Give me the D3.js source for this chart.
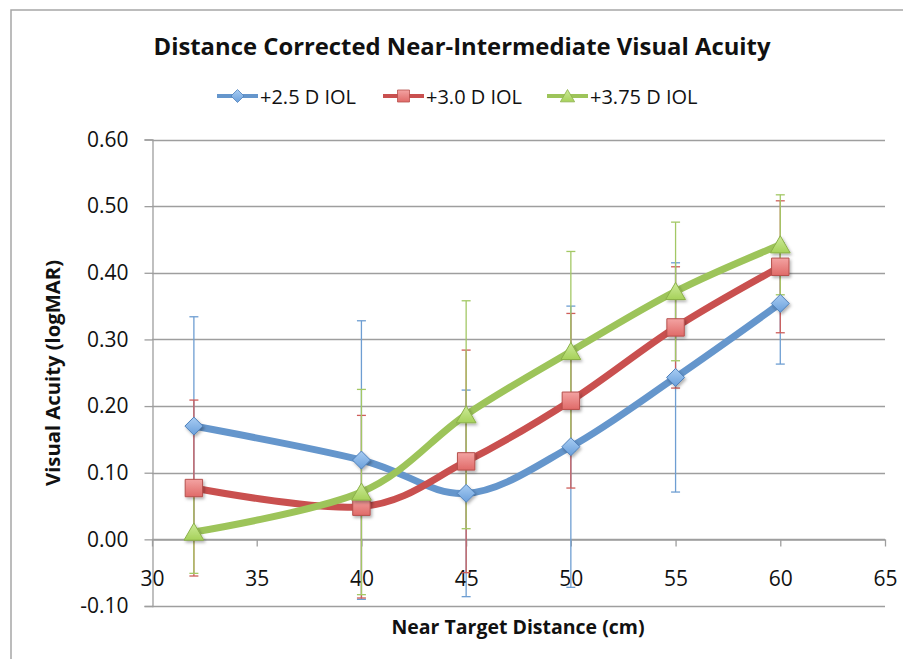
<!DOCTYPE html>
<html><head><meta charset="utf-8">
<script src="https://cdn.jsdelivr.net/npm/d3@7"></script>
<style>html,body{margin:0;padding:0;background:#fff;}svg{display:block;font-family:"Open Sans",sans-serif;}</style>
</head><body>
<svg id="c" width="903" height="659"></svg>
<script>
const distances = [32, 40, 45, 50, 55, 60];
const seriesNames = ["+2.5 D IOL", "+3.0 D IOL", "+3.75 D IOL"];
const iol25 = [0.170, 0.119, 0.069, 0.139, 0.243, 0.354];
const iol25Err = [0.164, 0.209, 0.155, 0.211, 0.172, 0.091];
const iol30 = [0.077, 0.049, 0.117, 0.208, 0.318, 0.409];
const iol30Err = [0.132, 0.137, 0.167, 0.131, 0.091, 0.099];
const iol375 = [0.011, 0.071, 0.187, 0.282, 0.372, 0.442];
const iol375Err = [0.062, 0.154, 0.171, 0.150, 0.104, 0.075];
const xTicks = [30, 35, 40, 45, 50, 55, 60, 65];
const yTicks = [-0.10, 0.00, 0.10, 0.20, 0.30, 0.40, 0.50, 0.60];

const series = [
  {name: seriesNames[0], vals: iol25, err: iol25Err, line: "#6596CC", bar: "#6E9ED2", stroke: "#4F80BA", light: "#A9CDF3", dark: "#6A9FDB", shape: "diamond"},
  {name: seriesNames[1], vals: iol30, err: iol30Err, line: "#C9504F", bar: "#CE5E5A", stroke: "#B6504D", light: "#F3A3A2", dark: "#E06A68", shape: "square"},
  {name: seriesNames[2], vals: iol375, err: iol375Err, line: "#9DC45A", bar: "#A3C865", stroke: "#8BB049", light: "#CDEB99", dark: "#A6D15A", shape: "triangle"}
];

const svg = d3.select("#c");
const defs = svg.append("defs");
const f = defs.append("filter").attr("id","sh").attr("x","-50%").attr("y","-50%").attr("width","200%").attr("height","200%");
f.append("feDropShadow").attr("dx",1.5).attr("dy",2).attr("stdDeviation",1.5).attr("flood-color","#000").attr("flood-opacity",0.3);
series.forEach((s,i)=>{
  const g = defs.append("linearGradient").attr("id","g"+i).attr("x1",0).attr("y1",0).attr("x2",0).attr("y2",1);
  g.append("stop").attr("offset","0%").attr("stop-color",s.light);
  g.append("stop").attr("offset","100%").attr("stop-color",s.dark);
});

// chart frame
svg.append("rect").attr("x",11).attr("y",10).attr("width",905).attr("height",670)
  .attr("fill","none").attr("stroke","#A6A6A6").attr("stroke-width",1.5);

const x = d3.scaleLinear().domain([30,65]).range([152,885]);
const y = d3.scaleLinear().domain([-0.1,0.6]).range([606,139.5]);

// gridlines
svg.append("g").selectAll("line").data(yTicks).join("line")
  .attr("x1",x(30)).attr("x2",x(65))
  .attr("y1",d=>Math.round(y(d))+0.5).attr("y2",d=>Math.round(y(d))+0.5)
  .attr("stroke","#9E9E9E").attr("stroke-width",1.3);

// y axis
const yAxis = svg.append("g").attr("transform",`translate(${Math.round(x(30))+0.5},0)`)
  .call(d3.axisLeft(y).tickValues(yTicks).tickFormat(d=>d.toFixed(2)).tickSize(8).tickPadding(16));
yAxis.select(".domain").attr("stroke","#9E9E9E").attr("stroke-width",1.3);
yAxis.selectAll(".tick line").attr("stroke","#9E9E9E").attr("stroke-width",1.3);
yAxis.selectAll("text").attr("font-family","Open Sans").attr("font-size",21).attr("fill","#111");

// x axis at y=0
const xAxis = svg.append("g").attr("transform",`translate(0,${Math.round(y(0))+0.5})`)
  .call(d3.axisBottom(x).tickValues(xTicks).tickFormat(d3.format("d")).tickSize(7).tickSizeOuter(0).tickPadding(25));
xAxis.select(".domain").attr("stroke","#9E9E9E").attr("stroke-width",1.3);
xAxis.selectAll(".tick line").attr("stroke","#9E9E9E").attr("stroke-width",1.3);
xAxis.selectAll("text").attr("font-family","Open Sans").attr("font-size",21).attr("fill","#111");

// error bars
const eg = svg.append("g");
series.forEach(s=>{
  const g = eg.append("g").attr("stroke",s.bar).attr("stroke-width",1.3);
  distances.forEach((d,i)=>{
    const cx = x(d), hi = y(s.vals[i]+s.err[i]), lo = y(s.vals[i]-s.err[i]);
    g.append("line").attr("x1",cx).attr("x2",cx).attr("y1",hi).attr("y2",lo);
    g.append("line").attr("x1",cx-4.5).attr("x2",cx+4.5).attr("y1",hi).attr("y2",hi);
    g.append("line").attr("x1",cx-4.5).attr("x2",cx+4.5).attr("y1",lo).attr("y2",lo);
  });
});

function markerPath(shape, r){
  if(shape==="diamond") return `M0,${-r}L${r},0L0,${r}L${-r},0Z`;
  if(shape==="square") return `M${-r},${-r}L${r},${-r}L${r},${r}L${-r},${r}Z`;
  return `M0,${-r}L${r*1.1},${r*0.9}L${-r*1.1},${r*0.9}Z`;
}
const sizes = {diamond:9, square:8.7, triangle:9};

const line = d3.line().x((d,i)=>x(distances[i])).y(d=>y(d)).curve(d3.curveCardinal.tension(0));
series.forEach((s,si)=>{
  const g = svg.append("g");
  g.append("path").attr("d",line(s.vals)).attr("fill","none").attr("stroke",s.line)
    .attr("stroke-width",7).attr("stroke-linejoin","round").attr("stroke-linecap","round");
  g.selectAll("path.m").data(s.vals).join("path").attr("class","m")
    .attr("transform",(d,i)=>`translate(${x(distances[i])},${y(d)})`)
    .attr("d",markerPath(s.shape,sizes[s.shape]))
    .attr("fill",`url(#g${si})`).attr("stroke",s.stroke).attr("stroke-width",1)
    .attr("filter","url(#sh)");
});

// legend
const legX = [217, 383, 547];
const lg = svg.append("g");
series.forEach((s,i)=>{
  const g = lg.append("g").attr("transform",`translate(${legX[i]},96)`);
  g.append("line").attr("x1",0).attr("x2",41).attr("stroke",s.line).attr("stroke-width",4);
  g.append("path").attr("transform","translate(20.5,0)").attr("d",markerPath(s.shape, s.shape==="square"?6:6.5))
    .attr("fill",`url(#g${i})`).attr("stroke",s.stroke).attr("stroke-width",0.8);
  g.append("text").attr("x",43).attr("y",7.5).attr("font-size",20).attr("fill","#111").text(s.name);
});

// title
svg.append("text").attr("x",462).attr("y",55).attr("text-anchor","middle")
  .attr("font-size",23).attr("font-weight","bold").attr("fill","#111")
  .attr("textLength",617).attr("lengthAdjust","spacingAndGlyphs")
  .text("Distance Corrected Near-Intermediate Visual Acuity");

// axis titles
svg.append("text").attr("x",518).attr("y",634).attr("text-anchor","middle")
  .attr("font-size",20).attr("font-weight","bold").attr("fill","#111")
  .attr("textLength",253).attr("lengthAdjust","spacingAndGlyphs")
  .text("Near Target Distance (cm)");
svg.append("text").attr("transform","translate(60,373) rotate(-90)").attr("text-anchor","middle")
  .attr("font-size",20).attr("font-weight","bold").attr("fill","#111")
  .attr("textLength",226).attr("lengthAdjust","spacingAndGlyphs")
  .text("Visual Acuity (logMAR)");
</script>
</body></html>
